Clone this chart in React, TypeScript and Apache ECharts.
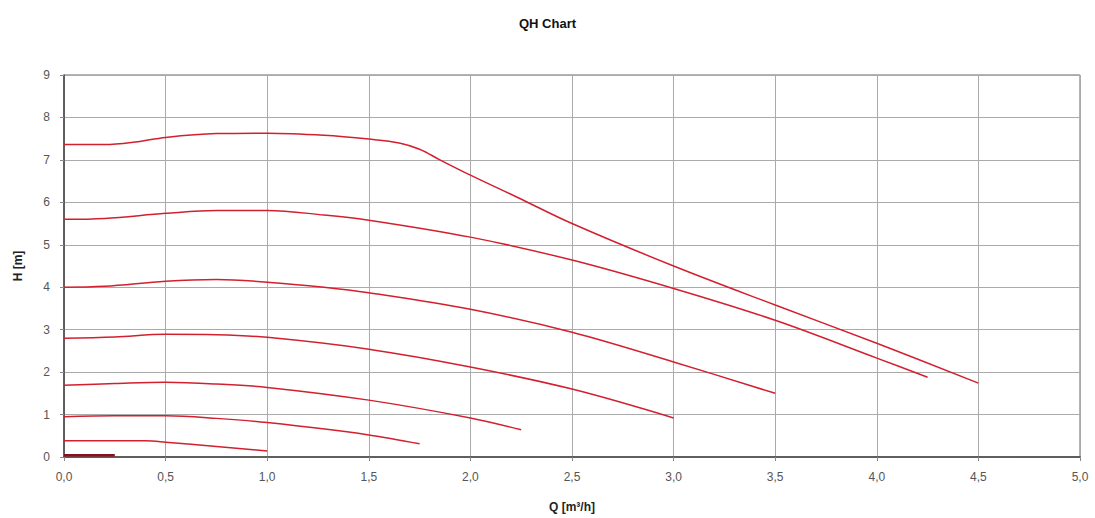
import React, { useEffect, useRef } from "react";
import * as echarts from "echarts";

const title = "QH Chart";
const xName = "Q [m³/h]";
const yName = "H [m]";

// Each curve: [Q, H] pairs
const curve1: [number, number][] = [
  [0, 7.36], [0.2, 7.36], [0.35, 7.42], [0.5, 7.53], [0.75, 7.62], [1.0, 7.63], [1.28, 7.58],
  [1.5, 7.49], [1.65, 7.4], [1.75, 7.25], [1.85, 7.0], [2.0, 6.64], [2.23, 6.12], [2.5, 5.5],
  [3.0, 4.5], [3.5, 3.58], [4.0, 2.68], [4.5, 1.74],
];
const curve2: [number, number][] = [
  [0, 5.6], [0.2, 5.62], [0.5, 5.74], [0.75, 5.81], [1.0, 5.81], [1.28, 5.7], [1.5, 5.58],
  [2.0, 5.18], [2.5, 4.64], [3.0, 3.97], [3.5, 3.22], [4.0, 2.33], [4.25, 1.88],
];
const curve3: [number, number][] = [
  [0, 4.0], [0.2, 4.02], [0.5, 4.14], [0.75, 4.18], [1.0, 4.12], [1.28, 4.0], [1.5, 3.87],
  [2.0, 3.48], [2.5, 2.94], [3.0, 2.24], [3.5, 1.5],
];
const curve4: [number, number][] = [
  [0, 2.8], [0.25, 2.83], [0.5, 2.89], [0.75, 2.88], [1.0, 2.82], [1.5, 2.54], [2.0, 2.12],
  [2.5, 1.6], [3.0, 0.92],
];
const curve5: [number, number][] = [
  [0, 1.69], [0.25, 1.73], [0.5, 1.76], [0.75, 1.72], [1.0, 1.64], [1.5, 1.34], [2.0, 0.92],
  [2.25, 0.64],
];
const curve6: [number, number][] = [
  [0, 0.95], [0.25, 0.97], [0.5, 0.97], [0.75, 0.91], [1.0, 0.81], [1.5, 0.52], [1.75, 0.31],
];
const curve7: [number, number][] = [
  [0, 0.38], [0.4, 0.38], [0.5, 0.35], [0.75, 0.25], [1.0, 0.14],
];
const curve8: [number, number][] = [
  [0, 0.04], [0.25, 0.04],
];

const curves = [curve1, curve2, curve3, curve4, curve5, curve6, curve7, curve8];

export default function App() {
  const ref = useRef<HTMLDivElement>(null);
  useEffect(() => {
    if (!ref.current) return;
    const chart = echarts.init(ref.current, undefined, { renderer: "svg" });
    const font = "'Liberation Sans', Arial, sans-serif";
    chart.setOption({
      animation: false,
      backgroundColor: "#ffffff",
      title: {
        text: title,
        left: "center",
        top: 12,
        textStyle: { fontFamily: font, fontSize: 13, fontWeight: "bold", color: "#111" },
      },
      grid: {
        left: 64,
        right: 15,
        top: 75,
        bottom: 61,
        show: true,
        borderColor: "#666",
        borderWidth: 1,
      },
      xAxis: {
        type: "value",
        min: 0,
        max: 5,
        interval: 0.5,
        name: xName,
        nameLocation: "middle",
        nameGap: 44,
        nameTextStyle: { fontFamily: font, fontSize: 12, fontWeight: "bold", color: "#222" },
        axisLine: { show: true, lineStyle: { color: "#444", width: 1.5 } },
        axisTick: { show: true, length: 4, lineStyle: { color: "#888" } },
        axisLabel: {
          margin: 14,
          fontFamily: font,
          fontSize: 12,
          color: "#555",
          formatter: (v: number) => v.toFixed(1).replace(".", ","),
        },
        splitLine: { show: true, lineStyle: { color: "#aaa", width: 1 } },
      },
      yAxis: {
        type: "value",
        min: 0,
        max: 9,
        interval: 1,
        name: yName,
        nameLocation: "middle",
        nameGap: 40,
        nameTextStyle: { fontFamily: font, fontSize: 12, fontWeight: "bold", color: "#222" },
        axisLine: { show: true, lineStyle: { color: "#444", width: 1.5 } },
        axisTick: { show: true, length: 4, lineStyle: { color: "#888" } },
        axisLabel: { margin: 14, fontFamily: font, fontSize: 12, color: "#555" },
        splitLine: { show: true, lineStyle: { color: "#aaa", width: 1 } },
      },
      series: curves.map((c, i) => ({
        type: "line",
        data: c,
        smooth: 0.35,
        showSymbol: false,
        symbol: "none",
        lineStyle: { color: i === 7 ? "#8a1020" : "#d2202f", width: i === 7 ? 2.5 : 1.5 },
      })),
    });
    return () => chart.dispose();
  }, []);
  return (
    <div
      ref={ref}
      style={{ position: "fixed", left: 0, top: 0, width: 1095, height: 518 }}
    />
  );
}
